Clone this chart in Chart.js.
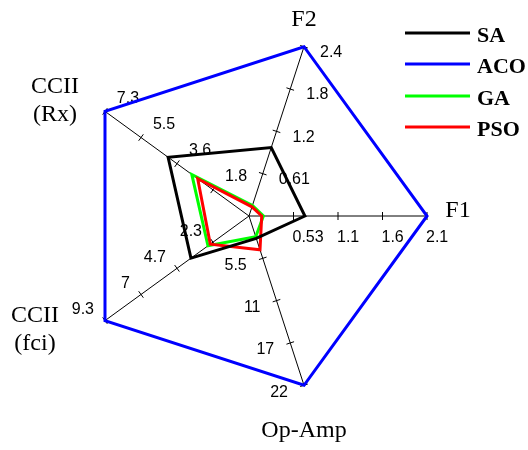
<!DOCTYPE html>
<html>
<head>
<meta charset="utf-8">
<script src="https://cdn.jsdelivr.net/npm/chart.js@4.4.0/dist/chart.umd.min.js"></script>
<style>
  html, body { margin: 0; padding: 0; background: #fff; }
  #wrap { width: 528px; height: 450px; position: relative; }
</style>
</head>
<body>
<div id="wrap"><canvas id="myChart"></canvas></div>
<script>
// axes, clockwise starting from the right
var axisNames = [['F1'], ['Op-Amp'], ['CCII', '(fci)'], ['CCII', '(Rx)'], ['F2']];
var axisMax = [2.1, 22, 9.3, 7.3, 2.4];
var tickF1 = ['0.53', '1.1', '1.6', '2.1'];
var tickOpAmp = ['5.5', '11', '17', '22'];
var tickFci = ['2.3', '4.7', '7', '9.3'];
var tickRx = ['1.8', '3.6', '5.5', '7.3'];
var tickF2 = ['0.61', '1.2', '1.8', '2.4'];
var axisTicks = [tickF1, tickOpAmp, tickFci, tickRx, tickF2];

var seriesNames = ['SA', 'ACO', 'GA', 'PSO'];
var saValues = [0.66, 2.9, 3.75, 4.1, 0.97];
var acoValues = [2.1, 22, 9.3, 7.3, 2.4];
var gaValues = [0.17, 2.7, 2.65, 2.9, 0.15];
var psoValues = [0.15, 4.4, 2.5, 2.6, 0.13];
var seriesColors = ['#000000', '#0000ff', '#00ff00', '#ff0000'];

// every axis has its own scale, so plot fractions of the axis maximum
function norm(vals) {
    return vals.map(function (v, i) { return v / axisMax[i]; });
}

// where each axis' tick text sits relative to the tick
var tickTextPos = [
    { dx: -1, dy: 22, align: 'left' },
    { dx: -16, dy: 7, align: 'right' },
    { dx: -11, dy: -11, align: 'right' },
    { dx: 23, dy: -13, align: 'center' },
    { dx: 16, dy: 6, align: 'left' }
];
var nameOffsets = [[31, -5], [0, 45], [-70, -5], [-50, -25], [0, -27]];

var radarExtras = {
    id: 'radarExtras',
    beforeDatasetsDraw: function (chart) {
        var ctx = chart.ctx;
        var r = chart.scales.r;
        ctx.save();
        ctx.strokeStyle = '#000';
        ctx.lineWidth = 1;
        ctx.fillStyle = '#000';
        ctx.font = '16px "Liberation Sans", Arial, sans-serif';
        ctx.textBaseline = 'middle';
        for (var i = 0; i < axisNames.length; i++) {
            var ang = r.getIndexAngle(i) - Math.PI / 2;
            var px = -Math.sin(ang), py = Math.cos(ang);
            var ticks = axisTicks[i];
            for (var k = 0; k < ticks.length; k++) {
                var p = r.getPointPositionForValue(i, (k + 1) / ticks.length);
                ctx.beginPath();
                ctx.moveTo(p.x - px * 4, p.y - py * 4);
                ctx.lineTo(p.x + px * 4, p.y + py * 4);
                ctx.stroke();
                var tp = tickTextPos[i];
                ctx.textAlign = tp.align;
                ctx.fillText(ticks[k], p.x + tp.dx, p.y + tp.dy);
            }
        }
        ctx.restore();
    },
    afterDraw: function (chart) {
        var ctx = chart.ctx;
        var r = chart.scales.r;
        ctx.save();
        ctx.fillStyle = '#000';
        ctx.font = '24px "Liberation Serif", "Times New Roman", serif';
        ctx.textAlign = 'center';
        ctx.textBaseline = 'middle';
        for (var i = 0; i < axisNames.length; i++) {
            var tip = r.getPointPositionForValue(i, 1);
            var lines = axisNames[i];
            for (var j = 0; j < lines.length; j++) {
                ctx.fillText(lines[j], tip.x + nameOffsets[i][0], tip.y + nameOffsets[i][1] + j * 28);
            }
        }
        // legend
        ctx.font = 'bold 22px "Liberation Serif", "Times New Roman", serif';
        ctx.textAlign = 'left';
        var ys = [33, 64, 96, 127];
        chart.data.datasets.forEach(function (ds, n) {
            ctx.strokeStyle = ds.borderColor;
            ctx.lineWidth = 3;
            ctx.beginPath();
            ctx.moveTo(405, ys[n]);
            ctx.lineTo(470, ys[n]);
            ctx.stroke();
            ctx.fillText(ds.label, 477, ys[n] + 3);
        });
        ctx.restore();
    }
};

const data = {
    labels: axisNames.map(function (n) { return n.join(' '); }),
    datasets: [
        { label: seriesNames[0], data: norm(saValues), borderColor: seriesColors[0], order: 1 },
        { label: seriesNames[1], data: norm(acoValues), borderColor: seriesColors[1], order: 4 },
        { label: seriesNames[2], data: norm(gaValues), borderColor: seriesColors[2], order: 3 },
        { label: seriesNames[3], data: norm(psoValues), borderColor: seriesColors[3], order: 2 }
    ].map(function (d) {
        d.borderWidth = 3;
        d.fill = false;
        d.pointRadius = 0;
        d.tension = 0;
        d.borderJoinStyle = 'miter';
        return d;
    })
};

const config = {
    type: 'radar',
    data: data,
    options: {
        responsive: true,
        maintainAspectRatio: false,
        animation: false,
        layout: { padding: { left: 71, right: 101, top: 37, bottom: 55 } },
        plugins: {
            legend: { display: false },
            tooltip: { enabled: false }
        },
        scales: {
            r: {
                min: 0,
                max: 1,
                startAngle: 90,
                ticks: { display: false },
                grid: { display: false },
                pointLabels: { display: false },
                angleLines: { display: true, color: '#000', lineWidth: 1 }
            }
        }
    },
    plugins: [radarExtras]
};

new Chart(document.getElementById('myChart'), config);
</script>
</body>
</html>
